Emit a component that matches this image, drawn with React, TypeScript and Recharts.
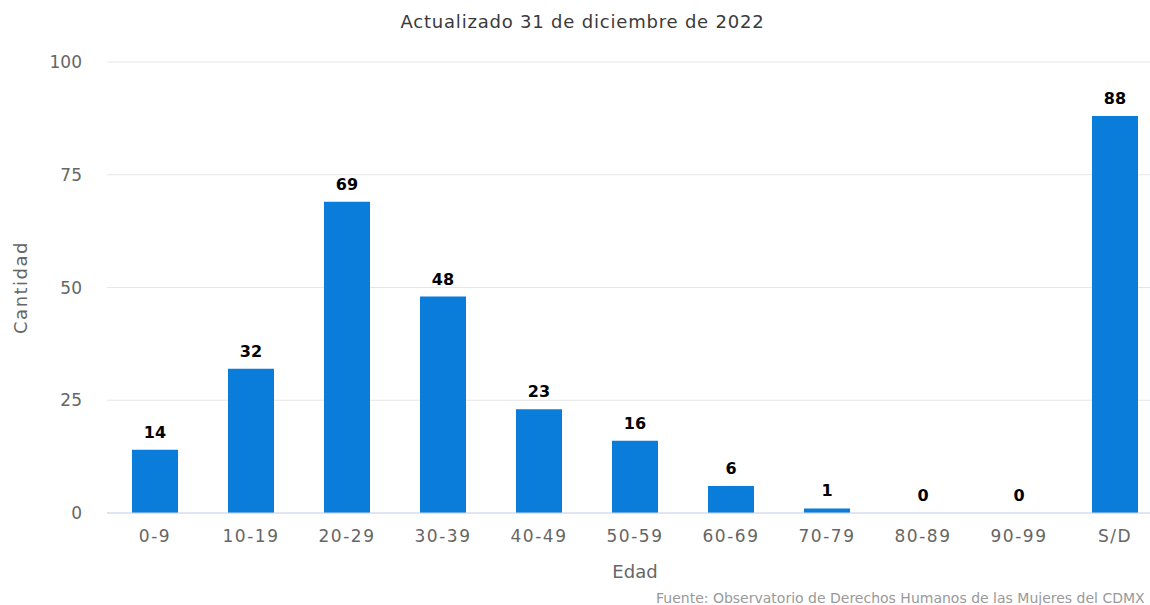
import { Bar, CartesianGrid, ComposedChart, LabelList, Line, XAxis, YAxis } from 'recharts';

const ageGroups = ['0-9', '10-19', '20-29', '30-39', '40-49', '50-59', '60-69', '70-79', '80-89', '90-99', 'S/D'];
const counts = [14, 32, 69, 48, 23, 16, 6, 1, 0, 0, 88];
const yTicks = [0, 25, 50, 75, 100];

const data = ageGroups.map((edad, i) => ({ edad, cantidad: counts[i] }));

const font = '"DejaVu Sans", Verdana, sans-serif';

export default function App() {
  return (
    <div
      style={{
        position: 'absolute',
        top: 0,
        left: 0,
        width: 1150,
        height: 605,
        overflow: 'hidden',
        background: '#fff',
        fontFamily: font,
      }}
    >
      <div
        style={{
          position: 'absolute',
          top: 12,
          left: 0,
          width: 1165,
          textAlign: 'center',
          fontSize: 18,
          letterSpacing: 0.8,
          lineHeight: '20px',
          color: '#3a3a3a',
        }}
      >
        Actualizado 31 de diciembre de 2022
      </div>
      <ComposedChart
        width={1165}
        height={605}
        data={data}
        margin={{ top: 62, right: 2, bottom: 0, left: 0 }}
        barCategoryGap={25}
      >
        <CartesianGrid vertical={false} stroke="#e6e6e6" />
        <XAxis
          dataKey="edad"
          height={92}
          tickLine={false}
          tickSize={0}
          tickMargin={17}
          stroke="#ccd6eb"
          tick={{ fill: '#666666', fontSize: 17, fontFamily: font, letterSpacing: 1.5 }}
          label={{ value: 'Edad', position: 'insideBottom', offset: 27, fill: '#666666', fontSize: 18, fontFamily: font }}
        />
        <YAxis
          width={107}
          domain={[0, 100]}
          ticks={yTicks}
          axisLine={false}
          tickLine={false}
          tickSize={0}
          tickMargin={25}
          tick={{ fill: '#666666', fontSize: 17, fontFamily: font }}
          label={{ value: 'Cantidad', angle: -90, position: 'center', dx: -33, fill: '#666666', fontSize: 18, letterSpacing: 1.5, fontFamily: font }}
        />
        <Bar dataKey="cantidad" fill="#0a7ddb" isAnimationActive={false} />
        {/* invisible line only carries the value labels, so the 0 bars get one too */}
        <Line dataKey="cantidad" stroke="none" dot={false} activeDot={false} isAnimationActive={false}>
          <LabelList
            dataKey="cantidad"
            position="top"
            offset={12}
            fill="#000000"
            fontSize={16}
            fontWeight="bold"
            fontFamily={font}
          />
        </Line>
      </ComposedChart>
      <div
        style={{
          position: 'absolute',
          top: 589,
          left: 656,
          whiteSpace: 'nowrap',
          fontSize: 14,
          lineHeight: '18px',
          color: '#999999',
        }}
      >
        Fuente: Observatorio de Derechos Humanos de las Mujeres del CDMX
      </div>
    </div>
  );
}
